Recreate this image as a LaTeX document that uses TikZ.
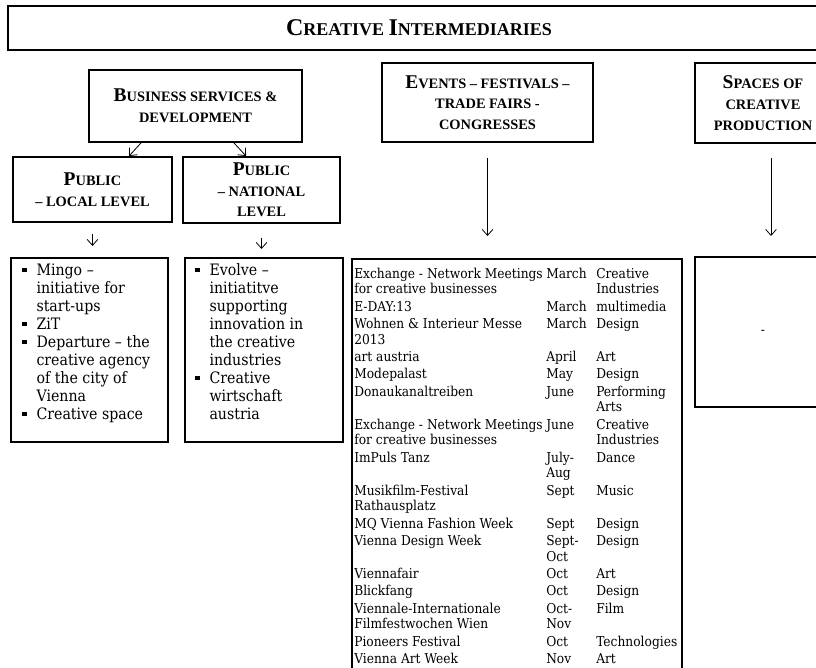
\documentclass[tikz,border=0pt]{standalone}
\usepackage{fontspec}
\setmainfont{Liberation Serif}
\newfontfamily\bodyfont[FakeStretch=0.9]{DejaVu Serif}
\usetikzlibrary{arrows.meta}
\newcommand\sqb{\rule[2.4pt]{3.2pt}{3.2pt}}
\newcommand\Bg[1]{{\fontsize{14.6pt}{15pt}\selectfont #1}}
\newcommand\Bgg[1]{{\fontsize{18pt}{20pt}\selectfont #1}}
\tikzset{
  box/.style={draw, line width=1.5pt, inner sep=0pt, align=center},
  hdr/.style={box, font=\bfseries\fontsize{10.8pt}{15.5pt}\selectfont},
  listtxt/.style={anchor=north west, inner sep=0pt, font=\bodyfont\fontsize{11.8pt}{13.5pt}\selectfont},
  tabtxt/.style={anchor=north west, inner sep=0pt, font=\bodyfont\fontsize{10.2pt}{11.75pt}\selectfont},
  conn/.style={-{Straight Barb[length=4.5pt,width=8pt]}, line width=0.6pt},
}
\begin{document}
\begin{tikzpicture}[x=0.75pt,y=-0.75pt]
\useasboundingbox (0,0) rectangle (816,667);
% title
\node[hdr, minimum width=616.5pt, minimum height=33pt, font=\bfseries\fontsize{13.5pt}{16pt}\selectfont] (title) at (419,28) {\Bgg{C}REATIVE \Bgg{I}NTERMEDIARIES};
% second level
\node[hdr, minimum width=159.75pt, minimum height=54pt] (biz) at (195.5,106) {\Bg{B}USINESS SERVICES \&\\DEVELOPMENT};
\node[hdr, minimum width=158.25pt, minimum height=59.25pt] (ev) at (487.5,102.5) {\Bg{E}VENTS – FESTIVALS –\\TRADE FAIRS -\\CONGRESSES};
\node[hdr, minimum width=102pt, minimum height=60pt] (sp) at (763,103) {\Bg{S}PACES OF\\CREATIVE\\PRODUCTION};
% third level
\node[hdr, minimum width=119.25pt, minimum height=48.75pt] (publoc) at (92.5,189.5) {\Bg{P}UBLIC\\– LOCAL LEVEL};
\node[hdr, minimum width=117.75pt, minimum height=49.5pt] (pubnat) at (261.5,190) {\Bg{P}UBLIC\\– NATIONAL\\LEVEL};
% content boxes
\node[box, minimum width=117.75pt, minimum height=138pt] (loclist) at (89.5,350) {};
\node[box, minimum width=118.5pt, minimum height=138pt] (natlist) at (264,350) {};
\node[box, minimum width=247.5pt, minimum height=330.75pt] (evbox) at (517,479.5) {};
\node[box, minimum width=102pt, minimum height=112.5pt, font=\bodyfont\fontsize{10.2pt}{11.7pt}\selectfont] (splist) at (763,332) {-};
% list texts
\node[listtxt] (loctxt) at ([xshift=9pt,yshift=-4pt]loclist.north west) {\begin{tabular}{@{}l@{\hspace{7.5pt}}l@{}}
\sqb & Mingo –\\
 & initiative for\\
 & start-ups\\
\sqb & ZiT\\
\sqb & Departure – the\\
 & creative agency\\
 & of the city of\\
 & Vienna\\
\sqb & Creative space
\end{tabular}};
\node[listtxt] (nattxt) at ([xshift=8.25pt,yshift=-4pt]natlist.north west) {\begin{tabular}{@{}l@{\hspace{7.5pt}}l@{}}
\sqb & Evolve –\\
 & initiatitve\\
 & supporting\\
 & innovation in\\
 & the creative\\
 & industries\\
\sqb & Creative\\
 & wirtschaft\\
 & austria
\end{tabular}};
% events table
\node[tabtxt] (evtab) at ([xshift=2.25pt,yshift=-6.75pt]evbox.north west) {\begin{tabular}{@{}p{144pt}@{}p{37.5pt}@{}l@{}}
Exchange - Network Meetings & March & Creative\\
for creative businesses & & Industries\\[1.25pt]
E-DAY:13 & March & multimedia\\[1.25pt]
Wohnen \& Interieur Messe & March & Design\\
2013 & & \\[1.25pt]
art austria & April & Art\\[1.25pt]
Modepalast & May & Design\\[1.25pt]
Donaukanaltreiben & June & Performing\\
 & & Arts\\[1.25pt]
Exchange - Network Meetings & June & Creative\\
for creative businesses & & Industries\\[1.25pt]
ImPuls Tanz & July- & Dance\\
 & Aug & \\[1.25pt]
Musikfilm-Festival & Sept & Music\\
Rathausplatz & & \\[1.25pt]
MQ Vienna Fashion Week & Sept & Design\\[1.25pt]
Vienna Design Week & Sept- & Design\\
 & Oct & \\[1.25pt]
Viennafair & Oct & Art\\[1.25pt]
Blickfang & Oct & Design\\[1.25pt]
Viennale-Internationale & Oct- & Film\\
Filmfestwochen Wien & Nov & \\[1.25pt]
Pioneers Festival & Oct & Technologies\\[1.25pt]
Vienna Art Week & Nov & Art
\end{tabular}};
% connectors
\draw[conn] ([xshift=-40.9pt]biz.south) -- ([xshift=27.4pt]publoc.north);
\draw[conn] ([xshift=28.9pt]biz.south) -- ([xshift=-11.6pt]pubnat.north);
\draw[conn, shorten <=8.25pt, shorten >=8.25pt] (publoc.south) -- (publoc.south |- loclist.north);
\draw[conn, shorten <=10.5pt, shorten >=6pt] (pubnat.south) -- (pubnat.south |- natlist.north);
\draw[conn, shorten <=11.25pt, shorten >=16.5pt] (ev.south) -- (ev.south |- evbox.north);
\draw[conn, shorten <=10.5pt, shorten >=15pt] ([xshift=6pt]sp.south) -- ([xshift=6pt]sp.south |- splist.north);
\end{tikzpicture}
\end{document}
